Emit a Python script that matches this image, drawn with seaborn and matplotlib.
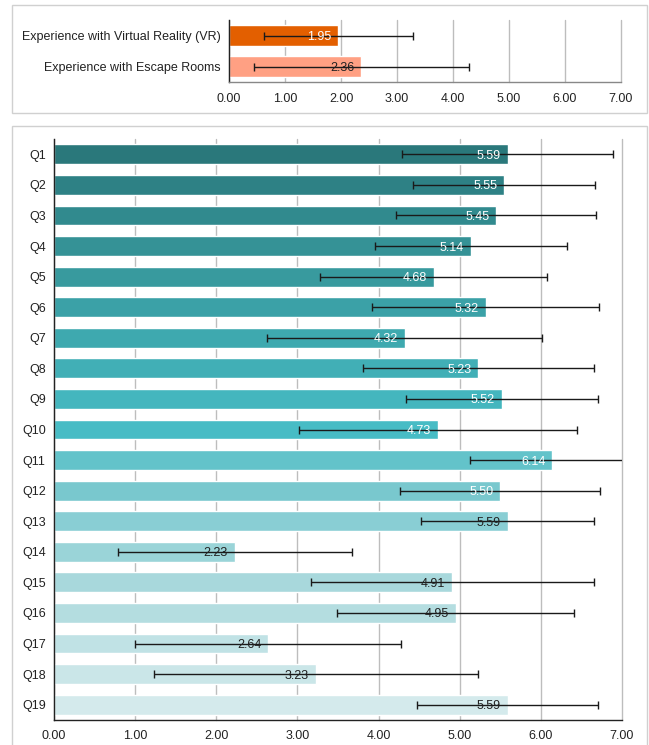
import matplotlib
matplotlib.use("Agg")
import matplotlib.pyplot as plt
import seaborn as sns
import pandas as pd
from matplotlib.patches import Rectangle

sns.set_theme(style="white")
plt.rcParams['font.family'] = ['Liberation Sans', 'DejaVu Sans']

# ---- data ----
exp_labels = ["Experience with Virtual Reality (VR)", "Experience with Escape Rooms"]
exp_means = [1.95, 2.36]
exp_sd = [1.33, 1.92]
exp_colors = ["#E35F00", "#FFA083"]

q_labels = [f"Q{i}" for i in range(1, 20)]
q_means = [5.59, 5.55, 5.45, 5.14, 4.68, 5.32, 4.32, 5.23, 5.52, 4.73,
           6.14, 5.50, 5.59, 2.23, 4.91, 4.95, 2.64, 3.23, 5.59]
q_sd = [1.30, 1.12, 1.23, 1.18, 1.40, 1.40, 1.69, 1.42, 1.18, 1.71,
        1.01, 1.23, 1.07, 1.44, 1.74, 1.46, 1.64, 2.00, 1.12]
q_colors = ["#2A787B", "#2E8185", "#318A8E", "#359296", "#389A9E", "#3BA1A7",
            "#3EA9AF", "#41AFB6", "#44B6BE", "#47BCC5", "#63C3CA", "#79C8CE",
            "#89CED4", "#9AD4D8", "#A8D8DC", "#B4DDE0", "#C0E2E5", "#CAE6E8",
            "#D4EAEC"]
q_label_colors = ["white"] * 12 + ["#222222"] * 7

ticks = [0, 1, 2, 3, 4, 5, 6, 7]
tick_labels = ["0.00", "1.00", "2.00", "3.00", "4.00", "5.00", "6.00", "7.00"]

W, H = 649, 745
fig = plt.figure(figsize=(W / 100, H / 100), dpi=100)

# panel borders
fig.patches.append(Rectangle((12 / W, (H - 113) / H), (647 - 12) / W, (113 - 5) / H,
                             transform=fig.transFigure, fill=False,
                             edgecolor="#D0D0D0", lw=1.0))
fig.patches.append(Rectangle((12 / W, -0.01), (647 - 12) / W, (H - 126) / H + 0.01,
                             transform=fig.transFigure, fill=False,
                             edgecolor="#D0D0D0", lw=1.0))


def style_axis(ax, bottom_color, xpad):
    ax.set_xlim(0, 7)
    ax.set_xticks(ticks)
    ax.set_xticklabels(tick_labels)
    ax.grid(axis="x", color="#BDBDBD", lw=1.0)
    ax.grid(axis="y", visible=False)
    for gl in ax.get_xgridlines():
        gl.set_clip_on(False)
    ax.set_axisbelow(True)
    for s in ["top", "right"]:
        ax.spines[s].set_visible(False)
    ax.spines["left"].set_color("#222222")
    ax.spines["left"].set_linewidth(1.0)
    ax.spines["bottom"].set_color(bottom_color)
    ax.spines["bottom"].set_linewidth(1.0)
    ax.tick_params(axis="both", length=0, labelsize=9, colors="#222222", pad=6)
    ax.tick_params(axis="x", pad=xpad)
    ax.set_xlabel("")
    ax.set_ylabel("")


# ---- top panel ----
ax1 = fig.add_axes([229 / W, (H - 82) / H, (621 - 229) / W, 62 / H])
df1 = pd.DataFrame({"label": exp_labels, "mean": exp_means})
sns.barplot(data=df1, y="label", x="mean", hue="label", palette=exp_colors,
            legend=False, width=0.67, saturation=1, ax=ax1, orient="h")
ax1.errorbar(exp_means, range(len(exp_means)), xerr=exp_sd, fmt="none",
             ecolor="#1A1A1A", elinewidth=1.0, capsize=3, capthick=1.0, clip_on=True)
for i, v in enumerate(exp_means):
    ax1.annotate(f"{v:.2f}", (v, i), xytext=(-5, 0), textcoords="offset points",
                 ha="right", va="center_baseline", fontsize=9,
                 color="white" if i == 0 else "#222222")
style_axis(ax1, "#888888", 8)
ax1.set_ylim(1.5, -0.5)

# ---- bottom panel ----
ax2 = fig.add_axes([54 / W, (H - 720) / H, (622 - 54) / W, (720 - 139) / H])
df2 = pd.DataFrame({"label": q_labels, "mean": q_means})
sns.barplot(data=df2, y="label", x="mean", hue="label", palette=q_colors,
            legend=False, width=0.65, saturation=1, ax=ax2, orient="h")
ax2.errorbar(q_means, range(len(q_means)), xerr=q_sd, fmt="none",
             ecolor="#1A1A1A", elinewidth=1.0, capsize=3, capthick=1.0, clip_on=True)
for i, v in enumerate(q_means):
    ax2.annotate(f"{v:.2f}", (v, i), xytext=(-5, 0), textcoords="offset points",
                 ha="right", va="center_baseline", fontsize=9, color=q_label_colors[i])
style_axis(ax2, "#222222", 7)
ax2.set_ylim(18.5, -0.5)

fig.savefig("out.png", dpi=100)
